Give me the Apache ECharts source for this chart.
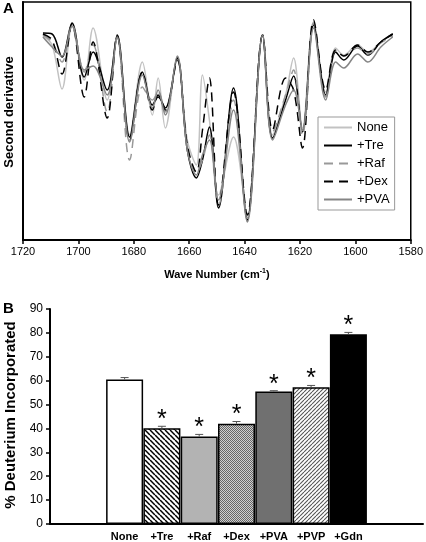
<!DOCTYPE html>
<html><head><meta charset="utf-8">
<script src="https://cdn.jsdelivr.net/npm/echarts@6/dist/echarts.min.js"></script>
<style>html,body{margin:0;padding:0;background:#fff}#c{width:426px;height:542px}</style>
</head><body><div id="c"></div>
<script>
// ---------- Panel A: second-derivative spectra (arbitrary units) ----------
const waveNumbers = [1712.8,1709.5,1705.9,1702.3,1697.9,1694.7,1689.6,1686.0,1681.5,1676.9,1673.3,1671.2,1668.6,1664.3,1660.7,1657.4,1655.2,1652.7,1649.4,1644.0,1639.0,1633.5,1629.9,1625.2,1622.3,1619.1,1615.1,1610.7,1607.1,1604.2,1599.2,1595.5,1590.8,1586.5];
const specNone = [204,195,151,214,160,212,140,204,105,178,125,162,112,183,100,75,165,120,45,103,25,205,105,145,182,112,218,148,192,185,195,188,198,206];
const specTre  = [207,206,183,217,163,188,150,205,103,168,135,143,132,182,90,62,80,113,32,152,20,205,102,140,164,108,215,145,188,180,194,185,198,206];
const specRaf  = [205,198,178,215,168,195,128,204,80,153,140,148,128,180,92,68,80,105,35,140,22,205,108,145,170,105,217,143,190,184,192,186,197,204];
const specDex  = [206,200,166,216,143,198,122,204,100,168,130,145,130,180,95,68,110,162,35,148,25,205,110,162,150,92,220,150,190,184,195,188,198,206];
const specPVA  = [203,193,184,214,170,174,145,203,98,165,132,150,125,184,90,65,85,100,40,130,18,205,100,135,150,110,212,140,178,172,186,178,193,203];
const spectraNames = ['None','+Tre','+Raf','+Dex','+PVA'];
const waveTicks = [1720,1700,1680,1660,1640,1620,1600,1580];

// ---------- Panel B: % deuterium incorporated ----------
const categories = ['None','+Tre','+Raf','+Dex','+PVA','+PVP','+Gdn'];
const deuterium  = [60.5, 40.1, 36.6, 42.0, 55.5, 57.2, 79.4];
const errors     = [0.8, 0.8, 0.9, 0.9, 0.3, 0.8, 0.8];
const significant= [false, true, true, true, true, true, true];
const pctTicks   = [0,10,20,30,40,50,60,70,80,90];

const FONT = "'Liberation Sans', Arial, sans-serif";

function hatch(size, lw, fg, bg, dir){
  const c = document.createElement('canvas'); c.width = size; c.height = size;
  const g = c.getContext('2d'); g.fillStyle = bg; g.fillRect(0,0,size,size);
  g.strokeStyle = fg; g.lineWidth = lw;
  for (let k=-1;k<=1;k++){
    g.beginPath();
    if (dir === 'back'){ g.moveTo(k*size,0); g.lineTo(k*size+size,size); }
    else { g.moveTo(k*size,size); g.lineTo(k*size+size,0); }
    g.stroke();
  }
  return {image:c, repeat:'repeat'};
}
function checker(a,b){
  const c = document.createElement('canvas'); c.width = 2; c.height = 2;
  const g = c.getContext('2d'); g.fillStyle=b; g.fillRect(0,0,2,2);
  g.fillStyle=a; g.fillRect(0,0,1,1); g.fillRect(1,1,1,1);
  return {image:c, repeat:'repeat'};
}
const barFills = ['#ffffff', hatch(5,1.5,'#000','#fff','back'), '#b3b3b3', checker('#666','#cfcfcf'), '#707070', hatch(4,1.1,'#555','#fff','fwd'), '#000000'];

const specData = [specNone, specTre, specRaf, specDex, specPVA];
const specStyles = [
  {color:'#c2c2c2', type:'solid'},
  {color:'#000000', type:'solid'},
  {color:'#999999', type:[9,6]},
  {color:'#000000', type:[9,6]},
  {color:'#858585', type:'solid'}
];

const paddedCats = ['', ''].concat(categories, ['', '']);

const chart = echarts.init(document.getElementById('c'), null, {renderer:'canvas'});
chart.setOption({
  animation:false,
  backgroundColor:'#fff',
  textStyle:{fontFamily:FONT},
  grid:[
    {left:23, top:2, width:388, height:238, show:true, borderColor:'#000', borderWidth:1.5, backgroundColor:'transparent'},
    {left:50, top:309, right:3, height:217}
  ],
  legend:{
    data:spectraNames, orient:'vertical', left:318, top:117,
    itemWidth:28, itemHeight:12, itemGap:5, padding:[4,5,4,5],
    borderColor:'#999', borderWidth:1, backgroundColor:'#fff',
    itemStyle:{opacity:0},
    textStyle:{fontSize:13, color:'#000', fontFamily:FONT}
  },
  xAxis:[
    {gridIndex:0, type:'value', inverse:true, min:1580, max:1720, interval:20,
     axisLine:{lineStyle:{color:'#000', width:2}}, axisTick:{show:true, length:4, lineStyle:{color:'#000', width:1.5}},
     splitLine:{show:false},
     axisLabel:{fontSize:11, color:'#000', margin:6, fontFamily:FONT, formatter:function(v){return String(v);}},
     name:'Wave Number (cm{sup|-1})', nameLocation:'middle', nameGap:28,
     nameTextStyle:{fontSize:11, fontWeight:'bold', color:'#000', fontFamily:FONT,
       rich:{sup:{fontSize:7, fontWeight:'bold', color:'#000', verticalAlign:'top', padding:[0,0,6,0], fontFamily:FONT}}}
    },
    {gridIndex:1, type:'category', data:paddedCats, boundaryGap:false,
     axisLine:{lineStyle:{color:'#000', width:2}}, axisTick:{show:false},
     axisLabel:{interval:0, fontSize:11, fontWeight:'bold', color:'#000', margin:7, fontFamily:FONT}
    }
  ],
  yAxis:[
    {gridIndex:0, type:'value', min:0, max:238, axisLabel:{show:false}, axisTick:{show:false}, splitLine:{show:false},
     axisLine:{show:true, lineStyle:{color:'#000', width:2}}},
    {gridIndex:1, type:'value', min:0, max:90, interval:10,
     axisLine:{show:true, lineStyle:{color:'#000', width:2}},
     axisTick:{show:true, length:4, lineStyle:{color:'#000', width:1.5}},
     splitLine:{show:false},
     axisLabel:{fontSize:12, color:'#000', margin:7, fontFamily:FONT}}
  ],
  graphic:[
    {type:'text', left:3, top:1, style:{text:'A', fontSize:15, fontWeight:'bold', fill:'#000', fontFamily:FONT}},
    {type:'text', left:3, top:301, style:{text:'B', fontSize:15, fontWeight:'bold', fill:'#000', fontFamily:FONT}},
    {type:'text', x:9, y:112, rotation:Math.PI/2, style:{text:'Second derivative', fontSize:13, fontWeight:'bold', fill:'#000', align:'center', verticalAlign:'middle', fontFamily:FONT}},
    {type:'text', x:11, y:415, rotation:Math.PI/2, style:{text:'% Deuterium Incorporated', fontSize:15, fontWeight:'bold', fill:'#000', align:'center', verticalAlign:'middle', fontFamily:FONT}}
  ],
  series: spectraNames.map((nm,si)=>({
    name:nm, type:'line', xAxisIndex:0, yAxisIndex:0, smooth:0.35, symbol:'none',
    lineStyle:{color:specStyles[si].color, type:specStyles[si].type, width:1.5},
    itemStyle:{color:specStyles[si].color},
    data: waveNumbers.map((w,i)=>[w, specData[si][i]]),
    z: si===0 ? 2 : 3
  })).concat([
    {type:'bar', xAxisIndex:1, yAxisIndex:1, barWidth:37,
     data: categories.map((c,i)=>({value:[i+2, deuterium[i]], itemStyle:{color:barFills[i], borderColor:'#000', borderWidth:1.5}}))},
    {type:'custom', xAxisIndex:1, yAxisIndex:1, z:5,
     data: categories.map((c,i)=>[i+2, deuterium[i], errors[i], significant[i]?1:0]),
     renderItem:function(params, api){
       const x = api.value(0), v = api.value(1), e = api.value(2), s = api.value(3);
       const p0 = api.coord([x, v]), p1 = api.coord([x, v+e]);
       const ch = [
         {type:'line', shape:{x1:p0[0], y1:p0[1], x2:p1[0], y2:p1[1]}, style:{stroke:'#555', lineWidth:1}},
         {type:'line', shape:{x1:p1[0]-4, y1:p1[1], x2:p1[0]+4, y2:p1[1]}, style:{stroke:'#555', lineWidth:1}}
       ];
       if (s) ch.push({type:'text', style:{text:'*', x:p1[0], y:p1[1]-6, align:'center', verticalAlign:'middle', fontSize:25, fill:'#000', fontFamily:FONT}});
       return {type:'group', children:ch};
     }
    }
  ])
});
</script></body></html>
